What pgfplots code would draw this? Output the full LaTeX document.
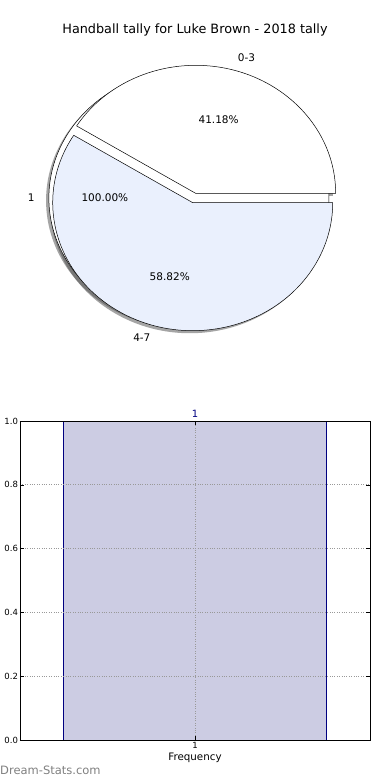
\documentclass[border=0pt]{standalone}
\usepackage{fontspec}
\setmainfont{DejaVu Sans}
\usepackage{pgfplots}
\pgfplotsset{compat=1.18}
\definecolor{pieblue}{RGB}{234,240,253}
\definecolor{barfill}{RGB}{204,204,227}
\definecolor{baredge}{RGB}{0,0,128}
\begin{document}
\begin{tikzpicture}
\useasboundingbox (0,0) rectangle (390pt,780pt);
% pie data: counts
\def\cntA{7}  % 0-3
\def\cntB{10} % 4-7
\def\ex{0.038}
\pgfmathsetmacro\tot{\cntA+\cntB}
\pgfmathsetmacro\angA{360*\cntA/\tot}
\pgfmathsetmacro\midA{\angA/2}
\pgfmathsetmacro\midB{(\angA+360)/2}
\pgfmathsetmacro\oAx{\ex*cos(\midA)}
\pgfmathsetmacro\oAy{\ex*sin(\midA)}
\pgfmathsetmacro\oBx{\ex*cos(\midB)}
\pgfmathsetmacro\oBy{\ex*sin(\midB)}
\pgfmathsetmacro\lAx{\oAx+1.1*cos(\midA)}
\pgfmathsetmacro\lAy{\oAy+1.1*sin(\midA)}
\pgfmathsetmacro\lBx{\oBx+1.1*cos(\midB)}
\pgfmathsetmacro\lBy{\oBy+1.1*sin(\midB)}
\pgfmathsetmacro\pAx{\oAx+0.6*cos(\midA)}
\pgfmathsetmacro\pAy{\oAy+0.6*sin(\midA)}
\pgfmathsetmacro\pBx{\oBx+0.6*cos(\midB)}
\pgfmathsetmacro\pBy{\oBy+0.6*sin(\midB)}
\pgfmathsetmacro\pctA{100*\cntA/\tot}
\pgfmathsetmacro\pctB{100*\cntB/\tot}
\begin{axis}[at={(0pt,390pt)}, anchor=south west, x=140pt, y=128pt,
  xmin=-1.3871, xmax=1.3986, ymin=-1.5, ymax=1.5469, hide axis, clip=false]
% shadows of exploded wedges
\fill[black!70, opacity=0.5] (axis cs:{\oAx-0.02},{\oAy-0.02}) -- (axis cs:{\oAx+1-0.02},{\oAy-0.02}) arc[start angle=0, end angle=\angA, x radius=1, y radius=1] -- cycle;
\fill[black!70, opacity=0.5] (axis cs:{\oBx-0.02},{\oBy-0.02}) -- (axis cs:{\oBx+cos(\angA)-0.02},{\oBy+sin(\angA)-0.02}) arc[start angle=\angA, end angle=360, x radius=1, y radius=1] -- cycle;
% single-category pie (100%)
\fill[black!70, opacity=0.5] (axis cs:{-\ex-0.02},-0.02) ellipse [x radius=1, y radius=1];
\filldraw[fill=white, draw=black, line width=0.5pt] (axis cs:-\ex,0) ellipse [x radius=1, y radius=1];
% wedges
\filldraw[fill=white, draw=black, line width=0.5pt] (axis cs:\oAx,\oAy) -- (axis cs:{\oAx+1},\oAy) arc[start angle=0, end angle=\angA, x radius=1, y radius=1] -- cycle;
\filldraw[fill=pieblue, draw=black, line width=0.5pt] (axis cs:\oBx,\oBy) -- (axis cs:{\oBx+cos(\angA)},{\oBy+sin(\angA)}) arc[start angle=\angA, end angle=360, x radius=1, y radius=1] -- cycle;
% labels
\node[anchor=west, inner sep=0pt, font=\fontsize{10.5}{12}\selectfont] at (axis cs:\lAx,\lAy) {0-3};
\node[anchor=east, inner sep=0pt, font=\fontsize{10.5}{12}\selectfont] at (axis cs:\lBx,\lBy) {4-7};
\node[anchor=east, inner sep=0pt, font=\fontsize{10.5}{12}\selectfont] at (axis cs:{-\ex-1.1},0) {1};
\node[inner sep=0pt, font=\fontsize{10.5}{12}\selectfont] at (axis cs:\pAx,\pAy) {\pgfmathprintnumber[fixed,fixed zerofill,precision=2,assume math mode=true]{\pctA}\%};
\node[inner sep=0pt, font=\fontsize{10.5}{12}\selectfont] at (axis cs:\pBx,\pBy) {\pgfmathprintnumber[fixed,fixed zerofill,precision=2,assume math mode=true]{\pctB}\%};
\node[inner sep=0pt, font=\fontsize{10.5}{12}\selectfont] at (axis cs:{-\ex-0.6},0) {100.00\%};
\end{axis}
\node[font=\fontsize{12.8}{15}\selectfont] at (195pt,750pt) {Handball tally for Luke Brown - 2018 tally};
% bar chart
\begin{axis}[at={(20pt,40pt)}, anchor=south west, scale only axis, width=350pt, height=319pt,
  xmin=0.5, xmax=1.5, ymin=0, ymax=1,
  xtick={1}, ytick={0,0.2,0.4,0.6,0.8,1},
  yticklabel style={xshift=1.5pt, /pgf/number format/.cd, fixed, fixed zerofill, precision=1, assume math mode=true},
  xticklabel style={yshift=1pt, /pgf/number format/assume math mode=true},
  tick label style={font=\fontsize{8.5}{10}\selectfont},
  tick align=inside, major tick length=4pt, tick pos=both,
  tick style={black, line width=0.5pt},
  axis line style={black, line width=0.9pt},
  axis on top,
  grid=major, grid style={dotted, black!40, line width=0.8pt},
  xlabel={Frequency}, xlabel style={font=\fontsize{10.3}{12}\selectfont, yshift=3pt},
  clip=false]
\addplot[ybar, bar width=0.75, fill=barfill, draw=baredge, line width=0.8pt,
  nodes near coords, nodes near coords style={font=\fontsize{10}{12}\selectfont, text=baredge, /pgf/number format/assume math mode=true}]
  coordinates {(1,1)};
\end{axis}
\node[anchor=west, inner sep=0pt, text=black!50, font=\fontsize{11.5}{13}\selectfont] at (0pt,10pt) {Dream-Stats.com};
\end{tikzpicture}
\end{document}
